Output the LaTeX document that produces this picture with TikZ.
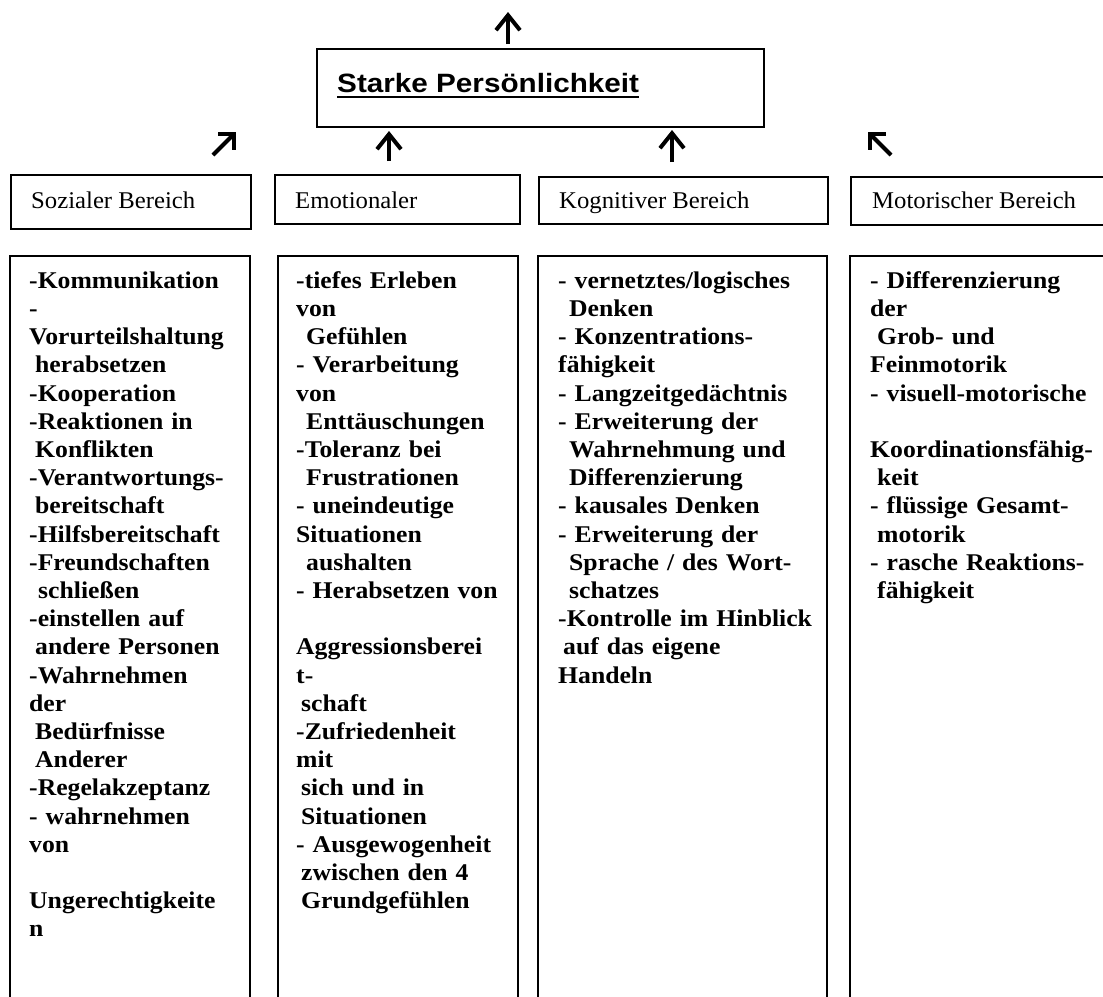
\documentclass[tikz,border=0pt]{standalone}
\usepackage{fontspec}
\usetikzlibrary{arrows.meta}
\newfontfamily\bodyf[FakeStretch=1.07]{Liberation Serif}
\newfontfamily\headf[FakeStretch=1.03]{Liberation Serif}
\newfontfamily\titlef[FakeStretch=1.12]{Liberation Sans}
\newcommand{\ind}[1]{\hspace*{#1pt}}
\tikzset{
  frame/.style={draw, line width=1.5pt, inner sep=0pt, anchor=north west},
  bodytext/.style={anchor=north west, inner sep=0pt, text width=300pt, align=left,
    font=\bodyf\bfseries\fontsize{24}{28.2}\selectfont},
  headtext/.style={anchor=base west, inner sep=0pt, font=\headf\fontsize{24}{28}\selectfont},
  titletext/.style={anchor=base west, inner sep=0pt, font=\titlef\bfseries\fontsize{26.5}{30}\selectfont},
  uparrow/.style={line width=4pt, -{Straight Barb[length=15pt,width=24pt]}},
  diagarrow/.style={line width=4pt, -{Straight Barb[length=11pt,width=22pt]}},
}
\begin{document}
\begin{tikzpicture}[x=1pt,y=-1pt]
\useasboundingbox (0,0) rectangle (1103,996);
\fill[white] (0,0) rectangle (1103,996);
\clip (0,0) rectangle (1103,996);

% title
\node[frame, minimum width=447pt, minimum height=78pt] (title) at (316,48) {};
\node[titletext] (ttext) at (337,92) {Starke Persönlichkeit};
\draw[line width=2.5pt] ([yshift=-5pt]ttext.base west) -- ([yshift=-5pt]ttext.base east);

% arrows
\coordinate (a0s) at (508,44); \coordinate (a0e) at (508,12);
\coordinate (a1s) at (213,155); \coordinate (a1e) at (236,132);
\coordinate (a2s) at (389,161); \coordinate (a2e) at (389,131);
\coordinate (a3s) at (672,162); \coordinate (a3e) at (672,130);
\coordinate (a4s) at (891,155); \coordinate (a4e) at (868,132);
\draw[uparrow] (a0s) -- (a0e);
\draw[uparrow] (a2s) -- (a2e);
\draw[uparrow] (a3s) -- (a3e);
\draw[diagarrow] (a1s) -- (a1e);
\draw[diagarrow] (a4s) -- (a4e);

% headers
\node[frame, minimum width=240pt, minimum height=54pt] (h1) at (10,174) {};
\node[frame, minimum width=245pt, minimum height=49pt] (h2) at (274,174) {};
\node[frame, minimum width=289pt, minimum height=47pt] (h3) at (538,176) {};
\node[frame, minimum width=265pt, minimum height=48pt] (h4) at (850,176) {};
\node[headtext] (h1t) at (31,208) {Sozialer Bereich};
\node[headtext] (h2t) at (295,208) {Emotionaler};
\node[headtext] (h3t) at (559,208) {Kognitiver Bereich};
\node[headtext] (h4t) at (872,208) {Motorischer Bereich};

% content boxes
\node[frame, minimum width=240pt, minimum height=770pt] (c1) at (9,255) {};
\node[frame, minimum width=240pt, minimum height=770pt] (c2) at (277,255) {};
\node[frame, minimum width=289pt, minimum height=770pt] (c3) at (537,255) {};
\node[frame, minimum width=266pt, minimum height=770pt] (c4) at (849,255) {};

\node[bodytext] (c1t) at (29,268.26) {\strut-Kommunikation\\
-\\
Vorurteilshaltung\\
\ind{6}herabsetzen\\
-Kooperation\\
-Reaktionen in\\
\ind{6}Konflikten\\
-Verantwortungs-\\
\ind{6}bereitschaft\\
-Hilfsbereitschaft\\
-Freundschaften\\
\ind{9}schließen\\
-einstellen auf\\
\ind{6}andere Personen\\
-Wahrnehmen\\
der\\
\ind{6}Bedürfnisse\\
\ind{6}Anderer\\
-Regelakzeptanz\\
- wahrnehmen\\
von\\
\mbox{}\\
Ungerechtigkeite\\
n};

\node[bodytext] (c2t) at (296,268.26) {\strut-tiefes Erleben\\
von\\
\ind{10}Gefühlen\\
- Verarbeitung\\
von\\
\ind{10}Enttäuschungen\\
-Toleranz bei\\
\ind{10}Frustrationen\\
- uneindeutige\\
Situationen\\
\ind{10}aushalten\\
- Herabsetzen von\\
\mbox{}\\
Aggressionsberei\\
t-\\
\ind{5}schaft\\
-Zufriedenheit\\
mit\\
\ind{5}sich und in\\
\ind{5}Situationen\\
- Ausgewogenheit\\
\ind{5}zwischen den 4\\
\ind{5}Grundgefühlen};

\node[bodytext] (c3t) at (558,268.26) {\strut- vernetztes/logisches\\
\ind{11}Denken\\
- Konzentrations-\\
fähigkeit\\
- Langzeitgedächtnis\\
- Erweiterung der\\
\ind{11}Wahrnehmung und\\
\ind{11}Differenzierung\\
- kausales Denken\\
- Erweiterung der\\
\ind{11}Sprache / des Wort-\\
\ind{11}schatzes\\
-Kontrolle im Hinblick\\
\ind{5}auf das eigene\\
Handeln};

\node[bodytext] (c4t) at (870,268.26) {\strut- Differenzierung\\
der\\
\ind{7}Grob- und\\
Feinmotorik\\
- visuell-motorische\\
\mbox{}\\
Koordinationsfähig-\\
\ind{7}keit\\
- flüssige Gesamt-\\
\ind{7}motorik\\
- rasche Reaktions-\\
\ind{7}fähigkeit};
\end{tikzpicture}
\end{document}
